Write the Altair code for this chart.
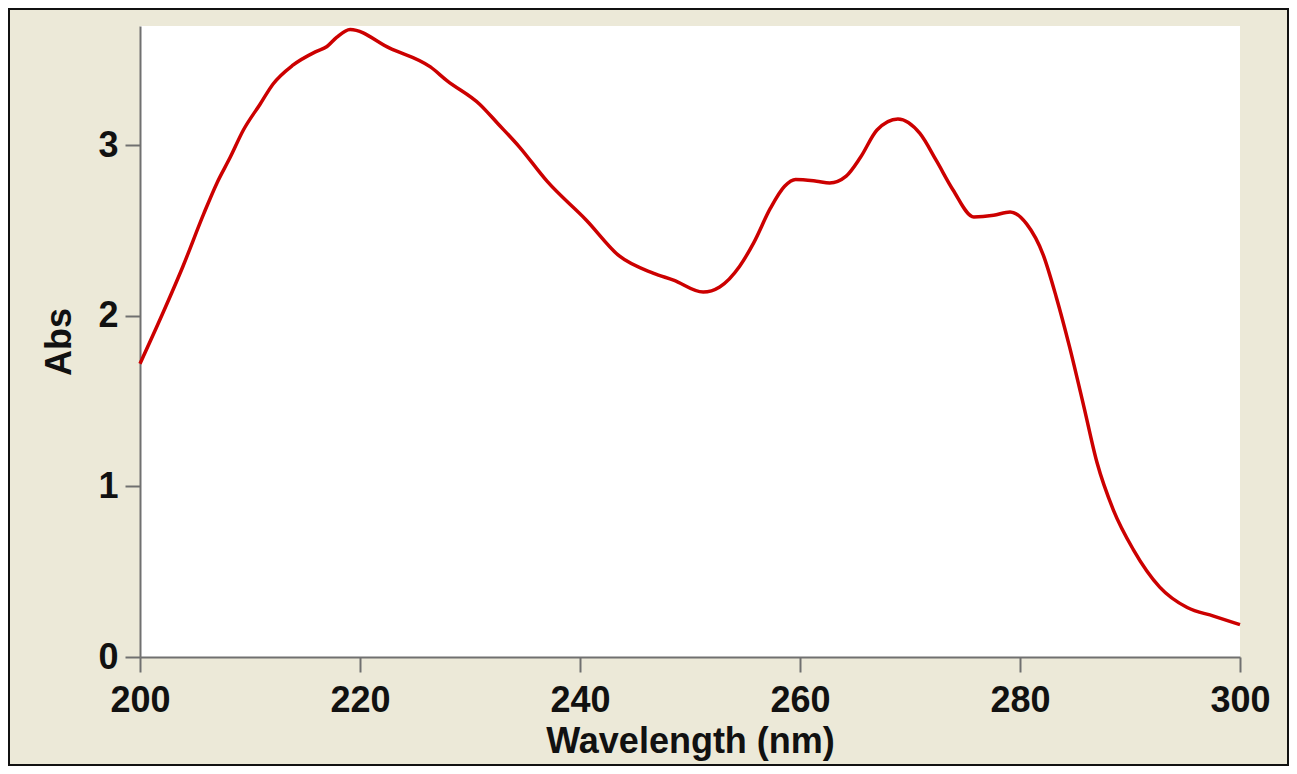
import altair as alt
import pandas as pd

# Traced spectrum (wavelength in nm, absorbance)
wavelength = [200, 202.1, 203.9, 205.8, 207, 208.2, 209.4, 210.9, 212.1, 213.9,
              216, 217, 217.9, 219.1, 222.7, 226.4, 227.9, 230.9, 232.5, 234.5,
              237, 240.6, 243.6, 246.7, 248.5, 251.2, 252.7, 254.5, 255.8, 257.3,
              258.6, 259.6, 261.5, 262.7, 264.2, 265.5, 267, 268.9, 270.9, 272.4,
              273.9, 275.8, 277.6, 279.1, 280.6, 282.1, 283.3, 284.5, 285.8, 287,
              288.5, 290.3, 292.7, 295.2, 297.6, 300]
absorbance = [1.72, 2.02, 2.29, 2.60, 2.78, 2.93, 3.09, 3.24, 3.36, 3.47,
              3.55, 3.58, 3.635, 3.68, 3.57, 3.46, 3.38, 3.24, 3.13, 2.99,
              2.79, 2.56, 2.35, 2.25, 2.21, 2.14, 2.17, 2.29, 2.43, 2.63,
              2.76, 2.80, 2.79, 2.78, 2.82, 2.93, 3.09, 3.155, 3.07, 2.91,
              2.74, 2.58, 2.59, 2.61, 2.54, 2.36, 2.11, 1.82, 1.47, 1.14,
              0.86, 0.63, 0.41, 0.29, 0.24, 0.19]

x_ticks = [200, 220, 240, 260, 280, 300]
y_ticks = [0, 1, 2, 3]

df = pd.DataFrame({"Wavelength": wavelength, "Abs": absorbance})

FONT = "Liberation Sans"

line = alt.Chart(df).mark_line(color="#CC0000", strokeWidth=3.5,
                               interpolate="monotone").encode(
    x=alt.X("Wavelength:Q",
            scale=alt.Scale(domain=[200, 300], nice=False, zero=False),
            axis=alt.Axis(values=x_ticks, title="Wavelength (nm)", grid=False,
                          domainColor="#707070", domainWidth=2,
                          tickColor="#707070", tickWidth=2, tickSize=15,
                          labelFont=FONT, labelFontSize=36, labelFontWeight="bold",
                          labelColor="#111111", labelBaseline="alphabetic",
                          labelPadding=39, labelFlush=False,
                          titleFont=FONT, titleFontSize=36, titleFontWeight="bold",
                          titleColor="#111111", titleBaseline="alphabetic",
                          titleY=95, titleX=550, titleAlign="center")),
    y=alt.Y("Abs:Q",
            scale=alt.Scale(domain=[0, 3.7], nice=False),
            axis=alt.Axis(values=y_ticks, title="Abs", grid=False,
                          domainColor="#707070", domainWidth=2,
                          tickColor="#707070", tickWidth=2, tickSize=15,
                          labelFont=FONT, labelFontSize=36, labelFontWeight="bold",
                          labelColor="#111111", labelPadding=7, labelFlush=False,
                          titleFont=FONT, titleFontSize=36, titleFontWeight="bold",
                          titleColor="#111111", titleBaseline="alphabetic",
                          titleAngle=270, titleX=-70, titleY=315.5,
                          titleAlign="center")),
)

frame = alt.Chart(pd.DataFrame({"f": [0]})).mark_rect(
    fill=None, stroke="#111111", strokeWidth=2
).encode(
    x=alt.value(-131), x2=alt.value(1148),
    y=alt.value(-17), y2=alt.value(739),
)

chart = alt.layer(line, frame).properties(
    width=1100, height=631,
    autosize=alt.AutoSizeParams(type="none"),
    padding={"left": 132, "top": 18, "right": 49, "bottom": 109},
    background="#ECE9D8",
).configure_view(fill="white", stroke=None)

chart.save("out.html", embed_options={"renderer": "svg", "actions": False})
